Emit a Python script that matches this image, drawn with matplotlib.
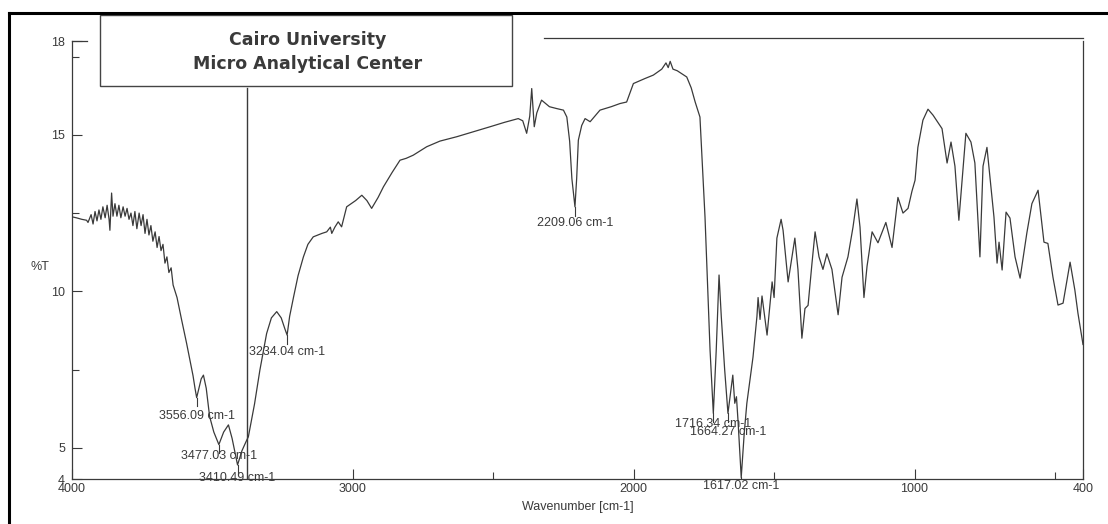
import matplotlib.pyplot as plt
from matplotlib.lines import Line2D
from matplotlib.patches import Rectangle

# spectrum (wavenumber cm-1, %T)
wavenumber = [4000, 3985, 3965, 3948, 3943, 3932, 3925, 3918, 3911, 3904,
              3897, 3890, 3882, 3875, 3868, 3865, 3859, 3854, 3847, 3840,
              3833, 3826, 3818, 3811, 3804, 3797, 3790, 3783, 3776, 3769,
              3761, 3754, 3747, 3740, 3733, 3726, 3719, 3712, 3704, 3697,
              3690, 3683, 3676, 3669, 3662, 3655, 3647, 3640, 3633, 3626,
              3610, 3592, 3580, 3569, 3562, 3556.09, 3548, 3540, 3532, 3522,
              3510, 3495, 3477.03, 3460, 3443, 3430, 3410.49, 3395, 3380, 3372,
              3350, 3331, 3307, 3290, 3271, 3255, 3242, 3234.04, 3225, 3211,
              3195, 3176, 3160, 3141, 3110, 3093, 3080, 3075, 3064, 3052,
              3040, 3022, 2990, 2968, 2950, 2933, 2910, 2891, 2860, 2832,
              2810, 2785, 2737, 2690, 2630, 2570, 2511, 2460, 2411, 2395,
              2381, 2370, 2363, 2358, 2354, 2345, 2328, 2300, 2274, 2250,
              2238, 2228, 2220, 2209.06, 2203, 2197, 2185, 2173, 2155, 2120,
              2080, 2049, 2025, 2001, 1960, 1930, 1900, 1885, 1877, 1870,
              1860, 1845, 1811, 1795, 1781, 1764, 1746, 1728, 1716.34, 1706,
              1696, 1688, 1676, 1664.27, 1647, 1640, 1634, 1628, 1617.02, 1606,
              1597, 1575, 1561, 1557, 1550, 1543, 1525, 1507, 1500, 1490,
              1475, 1468, 1450, 1426, 1415, 1401, 1390, 1379, 1365, 1354,
              1340, 1326, 1312, 1294, 1272, 1258, 1237, 1219, 1205, 1194,
              1180, 1169, 1151, 1130, 1102, 1080, 1059, 1041, 1023, 1009,
              998, 988, 970, 952, 934, 902, 884, 870, 856, 842,
              817, 799, 785, 767, 756, 742, 724, 717, 706, 699,
              688, 674, 660, 642, 624, 600, 582, 560, 539, 525,
              507, 489, 471, 446, 429, 418, 400]
transmittance = [12.38, 12.35, 12.30, 12.27, 12.20, 12.45, 12.15, 12.55, 12.25, 12.60,
                 12.30, 12.70, 12.35, 12.75, 12.30, 11.95, 13.14, 12.40, 12.80, 12.40,
                 12.75, 12.35, 12.70, 12.40, 12.65, 12.30, 12.50, 12.10, 12.55, 12.00,
                 12.50, 12.10, 12.45, 11.85, 12.30, 11.80, 12.10, 11.60, 11.90, 11.40,
                 11.75, 11.30, 11.50, 10.90, 11.10, 10.60, 10.75, 10.20, 10.00, 9.80,
                 9.10, 8.34, 7.80, 7.30, 6.90, 6.60, 6.90, 7.20, 7.32, 6.90,
                 6.00, 5.50, 5.10, 5.50, 5.73, 5.30, 4.45, 4.90, 5.20, 5.35,
                 6.40, 7.48, 8.65, 9.15, 9.35, 9.15, 8.80, 8.60, 9.20, 9.82,
                 10.50, 11.10, 11.50, 11.74, 11.85, 11.90, 12.05, 11.85, 12.05, 12.22,
                 12.06, 12.70, 12.90, 13.07, 12.90, 12.65, 13.00, 13.34, 13.80, 14.19,
                 14.25, 14.35, 14.62, 14.80, 14.94, 15.10, 15.26, 15.40, 15.52, 15.45,
                 15.05, 15.60, 16.48, 15.80, 15.26, 15.70, 16.11, 15.90, 15.84, 15.79,
                 15.57, 14.80, 13.60, 12.70, 13.60, 14.83, 15.30, 15.52, 15.42, 15.79,
                 15.90, 16.00, 16.05, 16.64, 16.80, 16.91, 17.10, 17.30, 17.15, 17.35,
                 17.10, 17.05, 16.85, 16.50, 16.05, 15.57, 12.38, 8.12, 6.10, 8.12,
                 10.52, 9.19, 7.50, 6.10, 7.32, 6.42, 6.63, 5.80, 4.05, 5.50,
                 6.42, 7.90, 9.20, 9.80, 9.10, 9.85, 8.60, 10.30, 9.80, 11.70,
                 12.30, 11.95, 10.30, 11.70, 10.70, 8.50, 9.45, 9.55, 10.90, 11.90,
                 11.10, 10.70, 11.20, 10.70, 9.25, 10.45, 11.10, 12.05, 12.95, 12.05,
                 9.80, 10.80, 11.90, 11.55, 12.20, 11.40, 13.00, 12.50, 12.65, 13.20,
                 13.55, 14.60, 15.47, 15.82, 15.63, 15.20, 14.10, 14.77, 14.00, 12.27,
                 15.05, 14.77, 14.10, 11.10, 14.00, 14.60, 13.00, 12.37, 10.90, 11.57,
                 10.68, 12.53, 12.34, 11.10, 10.42, 11.86, 12.80, 13.23, 11.57, 11.53,
                 10.45, 9.56, 9.62, 10.93, 10.04, 9.30, 8.30]

peak_wn = [3556.09, 3477.03, 3410.49, 3234.04, 2209.06, 1716.34, 1664.27, 1617.02]
peak_t = [6.60, 5.10, 4.45, 8.60, 12.70, 6.10, 6.10, 4.05]
peak_labels = ['3556.09 cm-1', '3477.03 cm-1', '3410.49 cm-1', '3234.04 cm-1',
               '2209.06 cm-1', '1716.34 cm-1', '1664.27 cm-1', '1617.02 cm-1']
label_drop = [0.60, 0.37, 0.42, 0.54, 0.52, 0.34, 0.60, 0.26]

x_ticks = [4000, 3000, 2000, 1000, 400]
x_minor = [2500, 1500, 500]
y_ticks = [18, 15, 10, 5, 4]
y_minor = [7.5, 12.5, 17.5]

W, H = 1108, 524
ink = '#3a3a3a'
plt.rcParams['font.family'] = ['Liberation Sans', 'DejaVu Sans']

fig = plt.figure(figsize=(W / 100, H / 100), dpi=100)
ax = fig.add_axes([72 / W, 1 - 479 / H, 1011 / W, 438 / H])

ax.plot(wavenumber, transmittance, color=ink, lw=0.9)

# cursor line left on the printout
ax.plot([3378, 3378], [4, 16.5], color=ink, lw=1.0)

for wn, t, lab, d in zip(peak_wn, peak_t, peak_labels, label_drop):
    ax.plot([wn, wn], [t, t - 0.28], color=ink, lw=0.8)
    ax.text(wn, t - d, lab, ha='center', va='center', fontsize=9, color=ink)

ax.set_xlim(4000, 400)
ax.set_ylim(4, 18)
ax.set_xticks(x_ticks)
ax.set_xticks(x_minor, minor=True)
ax.set_yticks(y_ticks)
ax.set_yticks(y_minor, minor=True)
ax.tick_params(direction='in', length=7, width=0.8, colors=ink, labelsize=9, pad=3)
ax.tick_params(which='minor', direction='in', length=5, width=0.8, colors=ink)
ax.tick_params(axis='y', pad=5)

ax.spines['top'].set_visible(False)
for s in ['left', 'right', 'bottom']:
    ax.spines[s].set_color(ink)
    ax.spines[s].set_linewidth(0.9)

# top frame line, broken by the header box
ax.plot([4000, 3945], [18, 18], color=ink, lw=0.9, clip_on=False)
ax.plot([2320, 400], [18.1, 18.1], color=ink, lw=0.9, clip_on=False)

ax.set_xlabel('Wavenumber [cm-1]', fontsize=9, color=ink, labelpad=4)
fig.text(40 / W, 1 - 267 / H, '%T', fontsize=9, color=ink, ha='center', va='center')

# header box
fig.patches.append(Rectangle((100 / W, 1 - 86 / H), 412 / W, 71 / H, transform=fig.transFigure,
                             fill=True, facecolor='white', edgecolor='#444444', lw=1.0))
fig.text(308 / W, 1 - 40 / H, 'Cairo University', fontsize=12.5, fontweight='bold',
         family='DejaVu Sans', color='#3a3a3a', ha='center', va='center')
fig.text(308 / W, 1 - 64 / H, 'Micro Analytical Center', fontsize=12.5, fontweight='bold',
         family='DejaVu Sans', color='#3a3a3a', ha='center', va='center')

# scan border
fig.lines.append(Line2D([9 / W, 9 / W], [0, 1 - 13 / H], transform=fig.transFigure,
                        color='black', lw=2.2))
fig.lines.append(Line2D([9 / W, 1], [1 - 13 / H, 1 - 13 / H], transform=fig.transFigure,
                        color='black', lw=2.2))

fig.savefig('out.png', dpi=100)
